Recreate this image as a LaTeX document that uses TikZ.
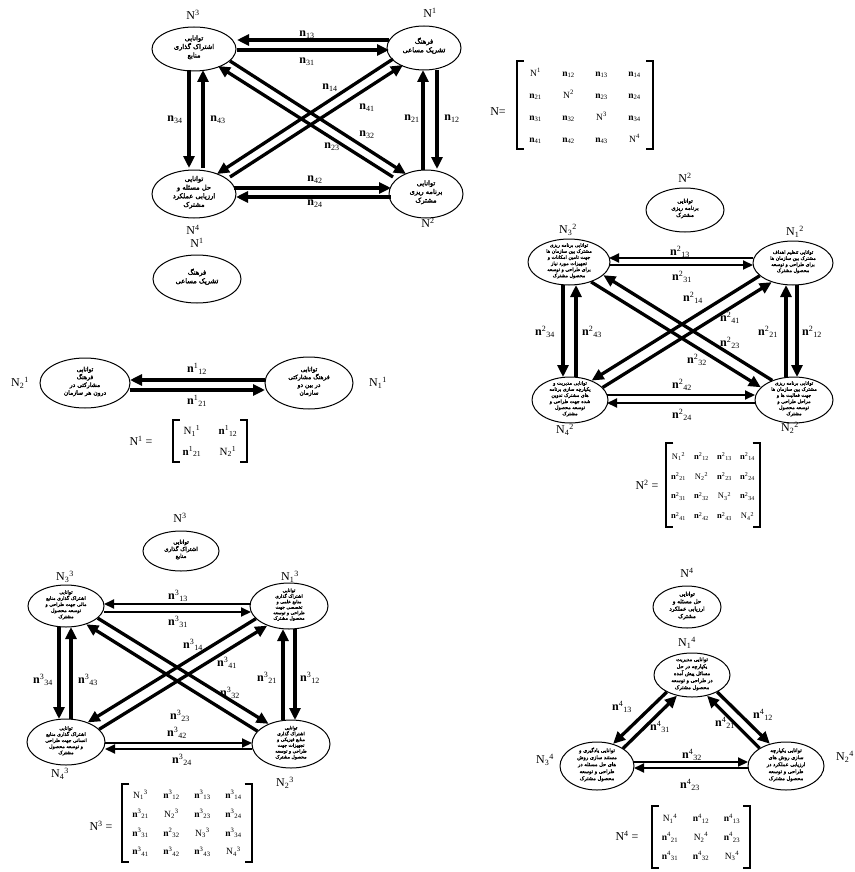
\documentclass[tikz,border=0pt]{standalone}
\usepackage{fontspec}
\usepackage{array}
\setmainfont{Liberation Serif}
\newfontfamily\fafont[Script=Arabic,FakeBold=2.5]{DejaVu Sans}
\TeXXeTstate=1
\usetikzlibrary{arrows.meta,shapes.geometric}
\newcommand\fa[1]{\beginR #1\endR}
\newcommand\ftx[3]{\makebox[0pt]{\raisebox{0pt}[0pt][0pt]{\fontsize{#1}{#2}\fafont\begin{tabular}{@{}c@{}}#3\end{tabular}}}}
\newcommand\nlab[1]{\textbf{n}\textsubscript{#1}}
\newcommand\nlabs[2]{\textbf{n}\textsuperscript{#1}\textsubscript{#2}}
\newcommand\Nlab[1]{N\textsuperscript{#1}}
\newcommand\Nlabs[2]{N\textsubscript{#2}\textsuperscript{#1}}
\newcommand\mat[5]{{\fontsize{#1}{#1}\selectfont\renewcommand\arraystretch{#2}\setlength\tabcolsep{0pt}\begin{tabular}{*{#4}{w{c}{#3}}}#5\end{tabular}}}
\tikzset{
 ell/.style={ellipse, draw, line width=1pt, inner sep=0pt, fill=white},
 arr/.style={line width=3.3pt, -{Triangle[length=12pt,width=11pt]}},
 arrh/.style={line width=2pt, -{Triangle[length=10pt,width=9pt]}},
 lab/.style={font=\fontsize{12}{14}\selectfont, inner sep=0pt},
 elab/.style={font=\fontsize{12}{14}\selectfont, inner sep=0pt},
 matnode/.style={inner sep=0pt},
 brk/.style={line width=1.8pt, line join=miter},
}
\begin{document}
\begin{tikzpicture}[x=1pt,y=-1pt]
\fill[white] (0,0) rectangle (854,872);
\useasboundingbox (0,0) rectangle (854,872);

% ================= Top graph =================
\node[ell, minimum width=84pt, minimum height=44pt] (T3) at (194,49) {\ftx{6.7}{8.6}{\fa{توانایی}\\\fa{اشتراک گذاری}\\\fa{منابع}}};
\node[ell, minimum width=74pt, minimum height=44pt] (T1) at (424,48) {\ftx{6.7}{8.6}{\fa{فرهنگ}\\\fa{تشریک مساعی}}};
\node[ell, minimum width=84pt, minimum height=48pt] (T4) at (194,194) {\ftx{6.7}{8.6}{\fa{توانایی}\\\fa{حل مسئله و}\\\fa{ارزیابی عملکرد}\\\fa{مشترک}}};
\node[ell, minimum width=74pt, minimum height=48pt] (T2) at (426,194) {\ftx{6.7}{8.6}{\fa{توانایی}\\\fa{برنامه ریزی}\\\fa{مشترک}}};
\node[lab] (tN3) at (193,15) {\Nlab{3}};
\node[lab] (tN1) at (430,13) {\Nlab{1}};
\node[lab] (tN4) at (193,230) {\Nlab{4}};
\node[lab] (tN2) at (428,223) {\Nlab{2}};

\draw[arr] ([shift={(-35,-8)}]T1.center) -- ([shift={(43,-9)}]T3.center);
\draw[arr] ([shift={(43,1)}]T3.center) -- ([shift={(-35,2)}]T1.center);
\draw[arr] ([shift={(-5,21)}]T3.center) -- ([shift={(-5,-26)}]T4.center);
\draw[arr] ([shift={(9,-26)}]T4.center) -- ([shift={(9,21)}]T3.center);
\draw[arr] ([shift={(-3,-24)}]T2.center) -- ([shift={(-1,22)}]T1.center);
\draw[arr] ([shift={(13,22)}]T1.center) -- ([shift={(11,-25)}]T2.center);
\draw[arr] ([shift={(40,-6)}]T4.center) -- ([shift={(-35,-6)}]T2.center);
\draw[arr] ([shift={(-35,3)}]T2.center) -- ([shift={(42,3)}]T4.center);
\draw[arr] ([shift={(36,12)}]T3.center) -- ([shift={(-20,-20)}]T2.center);
\draw[arr] ([shift={(-33,-17)}]T2.center) -- ([shift={(24,17)}]T3.center);
\draw[arr] ([shift={(-31,11)}]T1.center) -- ([shift={(23,-20)}]T4.center);
\draw[arr] ([shift={(36,-17)}]T4.center) -- ([shift={(-21,17)}]T1.center);

\node[elab] (e13) at (307,35) {\nlab{13}};
\node[elab] (e31) at (307,62) {\nlab{31}};
\node[elab] (e34) at (175,120) {\nlab{34}};
\node[elab] (e43) at (218,120) {\nlab{43}};
\node[elab] (e21) at (412,119) {\nlab{21}};
\node[elab] (e12) at (452,119) {\nlab{12}};
\node[elab] (e42) at (315,180) {\nlab{42}};
\node[elab] (e24) at (315,204) {\nlab{24}};
\node[elab] (e14) at (330,88) {\nlab{14}};
\node[elab] (e41) at (367,108) {\nlab{41}};
\node[elab] (e32) at (367,135) {\nlab{32}};
\node[elab] (e23) at (332,147) {\nlab{23}};

% matrix N
\node[lab] (MNl) at (498,112) {N=};
\node[matnode, minimum width=136pt, minimum height=85pt] (MN) at (585,105)
 {\mat{9.5}{2.3}{33pt}{4}{\Nlab{1} & \nlab{12} & \nlab{13} & \nlab{14}\\
 \nlab{21} & \Nlab{2} & \nlab{23} & \nlab{24}\\
 \nlab{31} & \nlab{32} & \Nlab{3} & \nlab{34}\\
 \nlab{41} & \nlab{42} & \nlab{43} & \Nlab{4}}};
\draw[brk] ([xshift=7pt]MN.north west) -- (MN.north west) -- (MN.south west) -- ([xshift=7pt]MN.south west);
\draw[brk] ([xshift=-7pt]MN.north east) -- (MN.north east) -- (MN.south east) -- ([xshift=-7pt]MN.south east);

% ================= N^1 =================
\node[lab] (sN1) at (197,243) {\Nlab{1}};
\node[ell, minimum width=88pt, minimum height=48pt] (S1) at (197,279) {\ftx{6.7}{8.6}{\fa{فرهنگ}\\\fa{تشریک مساعی}}};
\node[ell, minimum width=90pt, minimum height=50pt] (U2) at (85,383) {\ftx{6}{7.8}{\fa{توانایی}\\\fa{فرهنگ}\\\fa{مشارکتی در}\\\fa{درون هر سازمان}}};
\node[ell, minimum width=88pt, minimum height=52pt] (U1) at (309,383) {\ftx{6}{7.8}{\fa{توانایی}\\\fa{فرهنگ مشارکتی}\\\fa{در بین دو}\\\fa{سازمان}}};
\node[lab] (uN2) at (20,383) {\Nlabs{1}{2}};
\node[lab] (uN1) at (378,383) {\Nlabs{1}{1}};
\draw[arr] ([shift={(-44,-3)}]U1.center) -- ([shift={(45,-3)}]U2.center);
\draw[arr] ([shift={(45,7)}]U2.center) -- ([shift={(-44,7)}]U1.center);
\node[elab] (u12) at (197,369) {\nlabs{1}{12}};
\node[elab] (u21) at (197,401) {\nlabs{1}{21}};
\node[lab] (M1l) at (141,441) {\Nlab{1} =};
\node[matnode, minimum width=74pt, minimum height=42pt] (M1) at (210,441)
 {\mat{11}{1.85}{36pt}{2}{\Nlabs{1}{1} & \nlabs{1}{12}\\ \nlabs{1}{21} & \Nlabs{1}{2}}};
\draw[brk] ([xshift=7pt]M1.north west) -- (M1.north west) -- (M1.south west) -- ([xshift=7pt]M1.south west);
\draw[brk] ([xshift=-7pt]M1.north east) -- (M1.north east) -- (M1.south east) -- ([xshift=-7pt]M1.south east);

% ================= N^2 =================
\node[lab] (pN) at (685,178) {\Nlab{2}};
\node[ell, minimum width=78pt, minimum height=44pt] (P0) at (685,210) {\ftx{5.6}{7}{\fa{توانایی}\\\fa{برنامه ریزی}\\\fa{مشترک}}};
\node[ell, minimum width=82pt, minimum height=46pt] (P3) at (569,262) {\ftx{4.8}{6.1}{\fa{توانایی برنامه ریزی}\\\fa{مشترک بین سازمان ها}\\\fa{جهت تامین امکانات و}\\\fa{تجهیزات مورد نیاز}\\\fa{برای طراحی و توسعه}\\\fa{محصول مشترک}}};
\node[ell, minimum width=80pt, minimum height=44pt] (P1) at (793,263) {\ftx{4.8}{6.1}{\fa{توانایی تنظیم اهداف}\\\fa{مشترک بین سازمان ها}\\\fa{برای طراحی و توسعه}\\\fa{محصول مشترک}}};
\node[ell, minimum width=76pt, minimum height=46pt] (P4) at (570,400) {\ftx{4.8}{6.1}{\fa{توانایی مدیریت و}\\\fa{یکپارچه سازی برنامه}\\\fa{های مشترک تدوین}\\\fa{شده جهت طراحی و}\\\fa{توسعه محصول}\\\fa{مشترک}}};
\node[ell, minimum width=78pt, minimum height=46pt] (P2) at (794,400) {\ftx{4.8}{6.1}{\fa{توانایی برنامه ریزی}\\\fa{مشترک بین سازمان ها}\\\fa{جهت فعالیت ها و}\\\fa{مراحل طراحی و}\\\fa{توسعه محصول}\\\fa{مشترک}}};
\node[lab] (pN3) at (568,230) {\Nlabs{2}{3}};
\node[lab] (pN1) at (795,232) {\Nlabs{2}{1}};
\node[lab] (pN4) at (565,430) {\Nlabs{2}{4}};
\node[lab] (pN2) at (790,428) {\Nlabs{2}{2}};

\draw[arrh] ([shift={(-40,-5)}]P1.center) -- ([shift={(40,-4)}]P3.center);
\draw[arrh] ([shift={(40,3)}]P3.center) -- ([shift={(-40,2)}]P1.center);
\draw[arr] ([shift={(-6,23)}]P3.center) -- ([shift={(-7,-23)}]P4.center);
\draw[arr] ([shift={(6,-23)}]P4.center) -- ([shift={(7,23)}]P3.center);
\draw[arr] ([shift={(-8,-23)}]P2.center) -- ([shift={(-7,22)}]P1.center);
\draw[arr] ([shift={(4,22)}]P1.center) -- ([shift={(3,-23)}]P2.center);
\draw[arrh] ([shift={(37,-5)}]P4.center) -- ([shift={(-39,-5)}]P2.center);
\draw[arrh] ([shift={(-39,3)}]P2.center) -- ([shift={(37,3)}]P4.center);
\draw[arr] (P2.138) -- (P3.-21);
\draw[arr] (P3.-42) -- (P2.159);
\draw[arr] (P1.201) -- (P4.42);
\draw[arr] (P4.21) -- (P1.222);

\node[elab] (p13) at (680,252) {\nlabs{2}{13}};
\node[elab] (p31) at (682,277) {\nlabs{2}{31}};
\node[elab] (p34) at (545,332) {\nlabs{2}{34}};
\node[elab] (p43) at (592,332) {\nlabs{2}{43}};
\node[elab] (p21) at (768,332) {\nlabs{2}{21}};
\node[elab] (p12) at (812,332) {\nlabs{2}{12}};
\node[elab] (p42) at (682,385) {\nlabs{2}{42}};
\node[elab] (p24) at (682,415) {\nlabs{2}{24}};
\node[elab] (p14) at (693,298) {\nlabs{2}{14}};
\node[elab] (p41) at (730,318) {\nlabs{2}{41}};
\node[elab] (p23) at (730,343) {\nlabs{2}{23}};
\node[elab] (p32) at (697,360) {\nlabs{2}{32}};

\node[lab] (M2l) at (647,485) {\Nlab{2} =};
\node[matnode, minimum width=93pt, minimum height=84pt] (M2) at (713,485)
 {\mat{8.5}{2.35}{23pt}{4}{\Nlabs{2}{1} & \nlabs{2}{12} & \nlabs{2}{13} & \nlabs{2}{14}\\
 \nlabs{2}{21} & \Nlabs{2}{2} & \nlabs{2}{23} & \nlabs{2}{24}\\
 \nlabs{2}{31} & \nlabs{2}{32} & \Nlabs{2}{3} & \nlabs{2}{34}\\
 \nlabs{2}{41} & \nlabs{2}{42} & \nlabs{2}{43} & \Nlabs{2}{4}}};
\draw[brk] ([xshift=7pt]M2.north west) -- (M2.north west) -- (M2.south west) -- ([xshift=7pt]M2.south west);
\draw[brk] ([xshift=-7pt]M2.north east) -- (M2.north east) -- (M2.south east) -- ([xshift=-7pt]M2.south east);

% ================= N^3 =================
\node[lab] (qN) at (180,518) {\Nlab{3}};
\node[ell, minimum width=76pt, minimum height=40pt] (Q0) at (181,551) {\ftx{5.6}{7}{\fa{توانایی}\\\fa{اشتراک گذاری}\\\fa{منابع}}};
\node[ell, minimum width=76pt, minimum height=42pt] (Q3) at (66,606) {\ftx{4.8}{6.1}{\fa{توانایی}\\\fa{اشتراک گذاری منابع}\\\fa{مالی جهت طراحی و}\\\fa{توسعه محصول}\\\fa{مشترک}}};
\node[ell, minimum width=78pt, minimum height=46pt] (Q1) at (289,606) {\ftx{4.6}{5.5}{\fa{توانایی}\\\fa{اشتراک گذاری}\\\fa{منابع علمی و}\\\fa{تخصصی جهت}\\\fa{طراحی و توسعه}\\\fa{محصول مشترک}}};
\node[ell, minimum width=78pt, minimum height=46pt] (Q4) at (66,742) {\ftx{4.8}{6.1}{\fa{توانایی}\\\fa{اشتراک گذاری منابع}\\\fa{انسانی جهت طراحی}\\\fa{و توسعه محصول}\\\fa{مشترک}}};
\node[ell, minimum width=78pt, minimum height=48pt] (Q2) at (291,744) {\ftx{4.6}{5.8}{\fa{توانایی}\\\fa{اشتراک گذاری}\\\fa{منابع فیزیکی و}\\\fa{تجهیزات جهت}\\\fa{طراحی و توسعه}\\\fa{محصول مشترک}}};
\node[lab] (qN3) at (65,577) {\Nlabs{3}{3}};
\node[lab] (qN1) at (290,577) {\Nlabs{3}{1}};
\node[lab] (qN4) at (60,774) {\Nlabs{3}{4}};
\node[lab] (qN2) at (285,783) {\Nlabs{3}{2}};

\draw[arrh] ([shift={(-38,-2)}]Q1.center) -- ([shift={(38,-2)}]Q3.center);
\draw[arrh] ([shift={(38,6)}]Q3.center) -- ([shift={(-38,6)}]Q1.center);
\draw[arr] ([shift={(-7,21)}]Q3.center) -- ([shift={(-7,-23)}]Q4.center);
\draw[arr] ([shift={(5,-23)}]Q4.center) -- ([shift={(5,21)}]Q3.center);
\draw[arr] ([shift={(-8,-24)}]Q2.center) -- ([shift={(-6,23)}]Q1.center);
\draw[arr] ([shift={(6,23)}]Q1.center) -- ([shift={(4,-24)}]Q2.center);
\draw[arrh] ([shift={(39,1)}]Q4.center) -- ([shift={(-39,-1)}]Q2.center);
\draw[arrh] ([shift={(-39,5)}]Q2.center) -- ([shift={(39,7)}]Q4.center);
\draw[arr] (Q3.-21) -- (Q2.138);
\draw[arr] (Q2.159) -- (Q3.-42);
\draw[arr] (Q1.201) -- (Q4.42);
\draw[arr] (Q4.21) -- (Q1.222);

\node[elab] (q13) at (178,596) {\nlabs{3}{13}};
\node[elab] (q31) at (178,622) {\nlabs{3}{31}};
\node[elab] (q34) at (43,680) {\nlabs{3}{34}};
\node[elab] (q43) at (88,680) {\nlabs{3}{43}};
\node[elab] (q21) at (267,678) {\nlabs{3}{21}};
\node[elab] (q12) at (310,678) {\nlabs{3}{12}};
\node[elab] (q42) at (177,733) {\nlabs{3}{42}};
\node[elab] (q24) at (182,760) {\nlabs{3}{24}};
\node[elab] (q14) at (193,645) {\nlabs{3}{14}};
\node[elab] (q41) at (227,663) {\nlabs{3}{41}};
\node[elab] (q32) at (230,693) {\nlabs{3}{32}};
\node[elab] (q23) at (180,716) {\nlabs{3}{23}};

\node[lab] (M3l) at (101,826) {\Nlab{3} =};
\node[matnode, minimum width=129pt, minimum height=77pt] (M3) at (187,823)
 {\mat{9.5}{1.98}{31pt}{4}{\Nlabs{3}{1} & \nlabs{3}{12} & \nlabs{3}{13} & \nlabs{3}{14}\\
 \nlabs{3}{21} & \Nlabs{3}{2} & \nlabs{3}{23} & \nlabs{3}{24}\\
 \nlabs{3}{31} & \nlabs{2}{32} & \Nlabs{3}{3} & \nlabs{3}{34}\\
 \nlabs{3}{41} & \nlabs{3}{42} & \nlabs{3}{43} & \Nlabs{3}{4}}};
\draw[brk] ([xshift=7pt]M3.north west) -- (M3.north west) -- (M3.south west) -- ([xshift=7pt]M3.south west);
\draw[brk] ([xshift=-7pt]M3.north east) -- (M3.north east) -- (M3.south east) -- ([xshift=-7pt]M3.south east);

% ================= N^4 =================
\node[lab] (rN) at (687,573) {\Nlab{4}};
\node[ell, minimum width=68pt, minimum height=42pt] (R0) at (687,607) {\ftx{5.6}{7.4}{\fa{توانایی}\\\fa{حل مسئله و}\\\fa{ارزیابی عملکرد}\\\fa{مشترک}}};
\node[ell, minimum width=76pt, minimum height=44pt] (R1) at (692,675) {\ftx{5.1}{7}{\fa{توانایی مدیریت}\\\fa{یکپارچه در حل}\\\fa{مسائل پیش آمده}\\\fa{در طراحی و توسعه}\\\fa{محصول مشترک}}};
\node[ell, minimum width=74pt, minimum height=48pt] (R3) at (597,766) {\ftx{5.1}{7}{\fa{توانایی یادگیری و}\\\fa{مستند سازی روش}\\\fa{های حل مسئله در}\\\fa{طراحی و توسعه}\\\fa{محصول مشترک}}};
\node[ell, minimum width=76pt, minimum height=48pt] (R2) at (786,766) {\ftx{5.1}{7}{\fa{توانایی یکپارچه}\\\fa{سازی روش های}\\\fa{ارزیابی عملکرد در}\\\fa{طراحی و توسعه}\\\fa{محصول مشترک}}};
\node[lab] (rN1) at (687,643) {\Nlabs{4}{1}};
\node[lab] (rN3) at (545,760) {\Nlabs{4}{3}};
\node[lab] (rN2) at (845,757) {\Nlabs{4}{2}};

\draw[arr] (R1.214) -- (R3.54);
\draw[arr] (R3.34) -- (R1.234);
\draw[arr] (R1.-34) -- (R2.126);
\draw[arr] (R2.146) -- (R1.-54);
\draw[arrh] ([shift={(37,-4)}]R3.center) -- ([shift={(-38,-4)}]R2.center);
\draw[arrh] ([shift={(-38,2)}]R2.center) -- ([shift={(37,2)}]R3.center);

\node[elab] (r13) at (622,707) {\nlabs{4}{13}};
\node[elab] (r31) at (660,727) {\nlabs{4}{31}};
\node[elab] (r12) at (763,715) {\nlabs{4}{12}};
\node[elab] (r21) at (725,723) {\nlabs{4}{21}};
\node[elab] (r32) at (692,755) {\nlabs{4}{32}};
\node[elab] (r23) at (690,785) {\nlabs{4}{23}};

\node[lab] (M4l) at (627,836) {\Nlab{4} =};
\node[matnode, minimum width=98pt, minimum height=61pt] (M4) at (701,837)
 {\mat{9.5}{1.98}{31pt}{3}{\Nlabs{4}{1} & \nlabs{4}{12} & \nlabs{4}{13}\\
 \nlabs{4}{21} & \Nlabs{4}{2} & \nlabs{4}{23}\\
 \nlabs{4}{31} & \nlabs{4}{32} & \Nlabs{4}{3}}};
\draw[brk] ([xshift=7pt]M4.north west) -- (M4.north west) -- (M4.south west) -- ([xshift=7pt]M4.south west);
\draw[brk] ([xshift=-7pt]M4.north east) -- (M4.north east) -- (M4.south east) -- ([xshift=-7pt]M4.south east);
\end{tikzpicture}
\end{document}
